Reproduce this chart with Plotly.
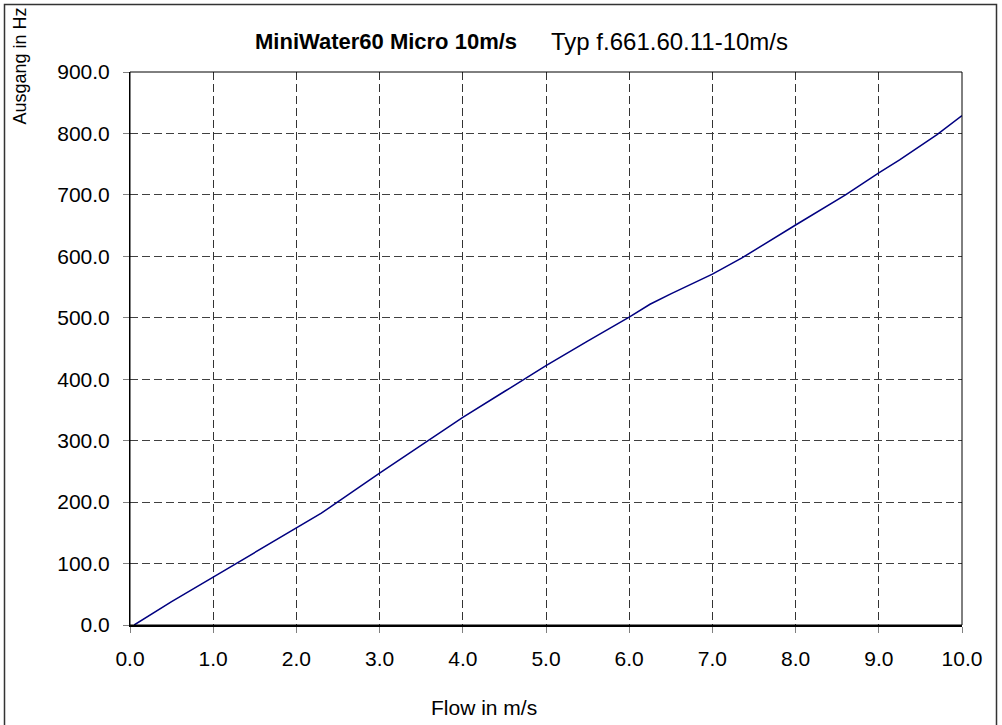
import plotly.graph_objects as go

# ---- data ----
flow = [0.05, 0.5, 1.0, 1.15, 1.5, 2.0, 2.3, 3.0, 3.5, 4.0, 4.5, 5.0, 5.5,
        6.0, 6.25, 6.5, 7.0, 7.35, 8.0, 8.6, 9.0, 9.25, 9.7, 10.0]
output_hz = [0, 38, 78, 90, 118, 157, 182, 247, 293, 338, 380, 422, 462,
             501, 522, 539, 571, 597, 651, 700, 736, 757, 798, 829]
x_ticks = [0, 1, 2, 3, 4, 5, 6, 7, 8, 9, 10]
y_ticks = [0, 100, 200, 300, 400, 500, 600, 700, 800, 900]
title_bold = "MiniWater60 Micro 10m/s"
title_rest = "Typ f.661.60.11-10m/s"
x_title = "Flow in m/s"
y_title = "Ausgang in Hz"

# ---- layout geometry (pixels) ----
W, H = 1002, 725
L, R, T, B = 130, 962, 72, 625
PW, PH = R - L, B - T


def px(x):
    return (x - L) / PW


def py(y):
    return (B - y) / PH


FONT = "Liberation Sans, Arial, sans-serif"

fig = go.Figure()
fig.add_trace(go.Scatter(x=flow, y=output_hz, mode="lines",
                         line=dict(color="#000080", width=1.5),
                         showlegend=False, hoverinfo="x+y"))

fig.update_layout(
    width=W, height=H,
    margin=dict(l=L, r=W - R, t=T, b=H - B, pad=0),
    paper_bgcolor="white", plot_bgcolor="white",
    font=dict(family=FONT, color="black"),
    xaxis=dict(range=[0, 10], tickvals=x_ticks,
               ticktext=[f"{v:.1f}" for v in x_ticks],
               showgrid=True, gridcolor="#333333", gridwidth=1,
               griddash="8px,4px", zeroline=False,
               showline=True, linecolor="black", linewidth=2,
               ticks="outside", ticklen=6, tickcolor="#808080",
               tickfont=dict(size=21, family=FONT), ticklabelstandoff=8),
    yaxis=dict(range=[0, 900], tickvals=y_ticks,
               ticktext=[f"{v:.1f}" for v in y_ticks],
               showgrid=True, gridcolor="#404040", gridwidth=1,
               griddash="8px,4px", zeroline=False,
               showline=True, linecolor="black", linewidth=1,
               ticks="outside", ticklen=6, tickcolor="#808080",
               tickfont=dict(size=21, family=FONT), ticklabelstandoff=9),
)

# plot frame (top/right) and outer chart border
fig.add_shape(type="rect", xref="paper", yref="paper", x0=0, x1=1, y0=0, y1=1,
              line=dict(color="black", width=1), layer="above")
fig.add_shape(type="rect", xref="paper", yref="paper",
              x0=px(4.5), x1=px(996.5), y0=py(740), y1=py(4.5),
              line=dict(color="#333333", width=1.5), layer="above")

# titles
fig.add_annotation(text=f"<b>{title_bold}</b>", xref="paper", yref="paper",
                   x=px(519), y=py(41), xanchor="right", yanchor="middle",
                   showarrow=False, font=dict(size=22, family=FONT))
fig.add_annotation(text=title_rest, xref="paper", yref="paper",
                   x=px(549), y=py(41), xanchor="left", yanchor="middle",
                   showarrow=False, font=dict(size=24, family=FONT))
fig.add_annotation(text=x_title, xref="paper", yref="paper",
                   x=px(484), y=py(707), xanchor="center", yanchor="middle",
                   showarrow=False, font=dict(size=21, family=FONT))
fig.add_annotation(text=y_title, xref="paper", yref="paper",
                   x=px(20), y=py(6), xanchor="center", yanchor="top",
                   textangle=-90, showarrow=False,
                   font=dict(size=18, family=FONT))

fig.write_html("out.html", config={"displayModeBar": False},
               post_script="document.body.style.margin='0';"
                           "document.body.style.overflow='hidden';")
